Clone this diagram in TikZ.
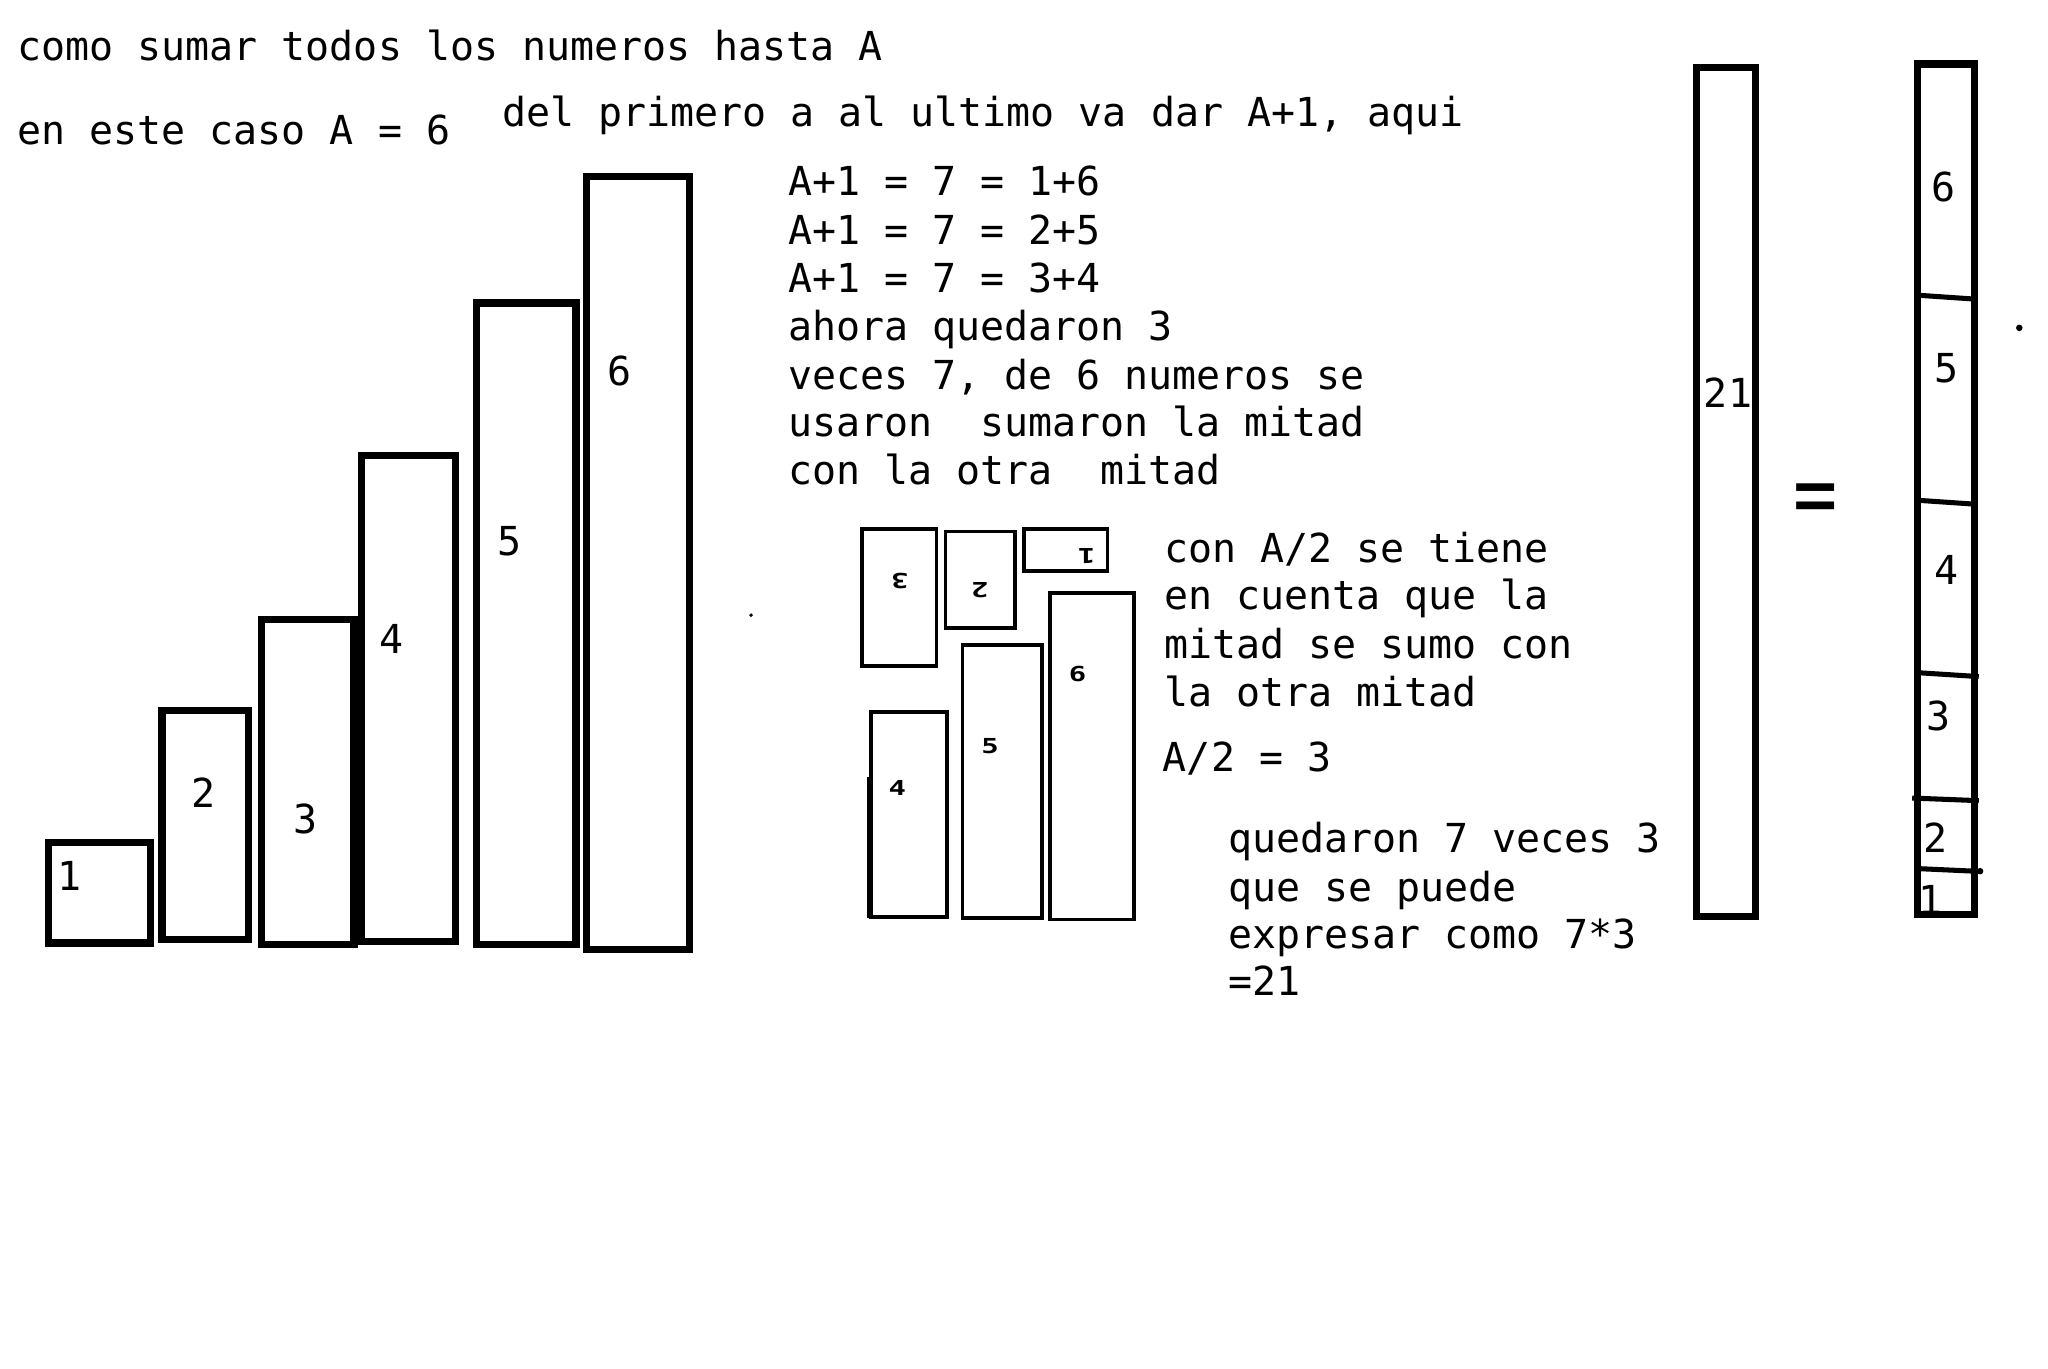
\documentclass[tikz,border=0pt]{standalone}
\usepackage{fontspec}
\setmonofont{DejaVu Sans Mono}
\begin{document}
\begin{tikzpicture}[x=0.02cm, y=-0.02cm,
texto/.style={anchor=base west, inner sep=0pt, font=\ttfamily\fontsize{17.4}{21}\selectfont},
cifra/.style={inner sep=0pt, font=\ttfamily\fontsize{17.4}{21}\selectfont},
chica/.style={inner sep=0pt, xscale=1.4, font=\ttfamily\bfseries\fontsize{9}{10}\selectfont},
barra/.style={line width=3.1pt},
pieza/.style={line width=1.6pt},
tira/.style={line width=3.1pt},
corte/.style={line width=2.2pt}]
\useasboundingbox (0,0) rectangle (1568,1048);
\fill[white] (0,0) rectangle (1568,1048);
% textos de arriba
\node[texto] (titulo) at (13,46){como sumar todos los numeros hasta A};
\node[texto] (caso) at (13,111){en este caso A = 6};
\node[texto] (primero) at (384,97){del primero a al ultimo va dar A+1, aqui};
% pares
\node[texto] (par1) at (603,150){A+1 = 7 = 1+6};
\node[texto] (par2) at (603,187){A+1 = 7 = 2+5};
\node[texto] (par3) at (603,224){A+1 = 7 = 3+4};
\node[texto] (quedan) at (603,261){ahora quedaron 3};
\node[texto] (veces) at (603,298){veces 7, de 6 numeros se};
\node[texto] (usaron) at (603,334){usaron\ \ sumaron la mitad};
\node[texto] (otra) at (603,371){con la otra\ \ mitad};
% barras de 1 a 6
\draw[barra] (37,645) rectangle (115,722);
\node[cifra] (b1) at (53,671){1};
\draw[barra] (124,544) rectangle (190,719);
\node[cifra] (b2) at (156,607){2};
\draw[barra] (200,474) rectangle (271,723);
\node[cifra] (b3) at (234,627){3};
\draw[barra] (277,349) rectangle (349,721);
\node[cifra] (b4) at (300,489){4};
\draw[barra] (365,232) rectangle (441,723);
\node[cifra] (b5) at (390,414){5};
\draw[barra] (449,135) rectangle (528,727);
\node[cifra] (b6) at (474,284){6};
\fill (575,471) circle (1.5);
% piezas giradas
\draw[pieza] (660,405) rectangle (717,510);
\node[chica, rotate=180] (p3) at (689,445){3};
\draw[pieza] (724,407) rectangle (777,481);
\node[chica, rotate=180] (p2) at (750,452){2};
\draw[pieza] (784,405) rectangle (848,437);
\node[chica, rotate=180] (p1) at (832,426){1};
\draw[pieza] (667,545) rectangle (725,702);
\draw[pieza] (665,595) -- (665,703);
\node[chica] (p4) at (687,603){4};
\draw[pieza] (737,494) rectangle (798,703);
\node[chica] (p5) at (758,571){5};
\draw[pieza] (804,454) rectangle (868,704);
\node[chica] (p6) at (825,516){6};
% mitad
\node[texto] (mitad1) at (891,431){con A/2 se tiene};
\node[texto] (mitad2) at (891,467){en cuenta que la};
\node[texto] (mitad3) at (891,504){mitad se sumo con};
\node[texto] (mitad4) at (891,541){la otra mitad};
\node[texto] (medio) at (890,591){A/2 = 3};
\node[texto] (res1) at (940,653){quedaron 7 veces 3};
\node[texto] (res2) at (940,690){que se puede};
\node[texto] (res3) at (940,726){expresar como 7*3};
\node[texto] (res4) at (940,762){=21};
% total
\draw[tira] (1299,52) rectangle (1344,702);
\node[cifra] (total) at (1323,301){21};
\node[inner sep=0pt, yscale=1.25, font=\ttfamily\fontsize{32}{32}\selectfont] (igual) at (1390,386){=};
% columna apilada
\node[cifra] (s1) at (1478,689){1};
\draw[tira] (1468,49) rectangle (1512,700);
\node[cifra] (s6) at (1488,143){6};
\node[cifra] (s5) at (1490,282){5};
\node[cifra] (s4) at (1490,436){4};
\node[cifra] (s3) at (1484,548){3};
\node[cifra] (s2) at (1482,641){2};
\draw[corte] (1468,226) -- (1512,229);
\draw[corte] (1468,383) -- (1512,386);
\draw[corte] (1468,515) -- (1515,518);
\draw[corte] (1464,611) -- (1515,613);
\draw[corte] (1468,665) -- (1512,667);
\fill (1516,667) circle (2.5);
\fill (1546,251) circle (2.5);
\end{tikzpicture}
\end{document}
